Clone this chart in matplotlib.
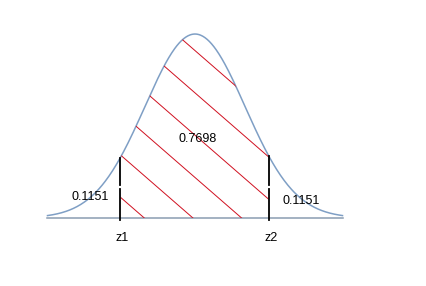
import matplotlib
matplotlib.use('Agg')
import matplotlib.pyplot as plt
import numpy as np

# z-werte (in sigma) der beiden schnitte
z_cut = [-1.5, 1.48]
z_labels = ['z1', 'z2']
area_labels = ['0.1151', '0.7698', '0.1151']
x_range = [-2.95, 2.95]

plt.rcParams['font.family'] = ['Liberation Sans', 'DejaVu Sans']

fig = plt.figure(figsize=(4.27, 2.86), dpi=100)
ax = fig.add_axes([0, 0, 1, 1])
ax.set_xlim(-3.9, 4.64)
ax.set_ylim(-0.37, 1.185)
ax.axis('off')

x = np.linspace(x_range[0], x_range[1], 400)
y = np.exp(-x ** 2 / 2)

# glockenkurve und grundlinie
ax.plot(x, y, color='#7f9fc5', lw=1.1)
ax.plot(x_range, [0, 0], color='#8a9cb2', lw=1.1)

# schraffierte flaeche zwischen z1 und z2
mask = (x >= z_cut[0]) & (x <= z_cut[1])
region = ax.fill_between(x[mask], 0, y[mask], facecolor='none', edgecolor='none')
clip = region.get_paths()[0]
for b in np.arange(0.91, -0.3, -0.23):
    hx = np.array([-4, 4])
    ln, = ax.plot(hx, b - 0.2364 * hx, color='#d01020', lw=0.7)
    ln.set_clip_path(clip, ax.transData)

# senkrechte linien bei z1, z2 (mit kleiner luecke wie im bild)
for zc in z_cut:
    top = np.exp(-zc ** 2 / 2)
    ax.plot([zc, zc], [-0.01, 0.155], color='black', lw=1.3)
    ax.plot([zc, zc], [0.18, top], color='black', lw=1.3)

# beschriftungen
ax.text(-2.1, 0.115, area_labels[0], ha='center', va='center', fontsize=9)
ax.text(0.05, 0.43, area_labels[1], ha='center', va='center', fontsize=9)
ax.text(2.12, 0.09, area_labels[2], ha='center', va='center', fontsize=9)
for zc, lab in zip(z_cut, z_labels):
    ax.text(zc + 0.05, -0.11, lab, ha='center', va='center', fontsize=9)

fig.savefig('out.png', dpi=100, facecolor='white')
